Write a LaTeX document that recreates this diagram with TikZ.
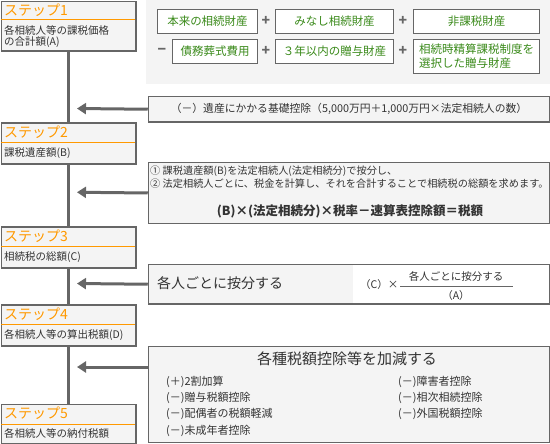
\documentclass[tikz,border=0pt]{standalone}
\usepackage{fontspec}
\setmainfont{Noto Sans CJK JP}
\usetikzlibrary{arrows.meta}
\definecolor{lineg}{HTML}{666666}
\definecolor{panel}{HTML}{F4F4F4}
\definecolor{orng}{HTML}{FF9900}
\definecolor{grn}{HTML}{3A8A1A}
\definecolor{txt}{HTML}{333333}
\newcommand{\fs}[1]{\fontsize{#1}{#1}\selectfont}
\tikzset{
  stepbox/.style={draw=lineg, line width=1.5pt, fill=panel, anchor=north west, minimum width=134.5pt, inner sep=0pt},
  steptitle/.style={anchor=west, text=orng, font=\fs{14}, inner sep=0pt},
  stepbody/.style={anchor=west, text=txt, font=\fs{10.5}, inner sep=0pt},
  oline/.style={draw=orng, line width=1pt},
  trunk/.style={draw=lineg, line width=3pt},
  arr/.style={draw=lineg, line width=3pt, -{Triangle[length=9pt,width=11pt]}},
  abox/.style={draw=lineg, line width=1.5pt, fill=panel, anchor=north west, inner sep=0pt},
  gbox/.style={draw=lineg, line width=1pt, fill=white, anchor=north west, inner sep=2pt, text=grn, font=\fs{11.5}},
  op/.style={text=lineg, font=\bfseries\fs{14}, inner sep=0pt},
  atext/.style={text=txt, inner sep=0pt},
}
\begin{document}
\begin{tikzpicture}[x=1pt,y=-1pt]
\useasboundingbox (0,0) rectangle (550,444);
% top panel
\fill[panel] (146,0) rectangle (550,84);
\node[gbox, minimum width=100pt, minimum height=24pt] (g1) at (157,9) {本来の相続財産};
\node[gbox, minimum width=118pt, minimum height=24pt] (g2) at (275,9) {みなし相続財産};
\node[gbox, minimum width=126pt, minimum height=24pt] (g3) at (413,9) {非課税財産};
\node[gbox, minimum width=85pt, minimum height=24pt] (g4) at (172,39) {債務葬式費用};
\node[gbox, minimum width=118pt, minimum height=24pt] (g5) at (275,39) {３年以内の贈与財産};
\node[gbox, minimum width=126pt, minimum height=34pt, align=left, font=\fontsize{11.5}{14}\selectfont] (g6) at (413,39) {相続時精算課税制度を\\選択した贈与財産};
\node[op] (p1) at (266,21) {+};
\node[op] (p2) at (403,21) {+};
\node[op] (m1) at (162,51) {−};
\node[op] (p3) at (266,51) {+};
\node[op] (p4) at (403,51) {+};

% step boxes
\node[stepbox, minimum height=49.5pt] (s1) at (0.75,0.75) {};
\node[steptitle] (t1) at (4,10) {ステップ1};
\draw[oline] (0.75,19.5) -- (135,19.5);
\node[stepbody] (d1a) at (4,30.5) {各相続人等の課税価格};
\node[stepbody] (d1b) at (4,42.5) {の合計額(A)};

\node[stepbox, minimum height=41pt] (s2) at (0.75,122.25) {};
\node[steptitle] (t2) at (4,132) {ステップ2};
\draw[oline] (0.75,142.5) -- (135,142.5);
\node[stepbody] (d2) at (4,153) {課税遺産額(B)};

\node[stepbox, minimum height=41pt] (s3) at (0.75,226.25) {};
\node[steptitle] (t3) at (4,236) {ステップ3};
\draw[oline] (0.75,246.5) -- (135,246.5);
\node[stepbody] (d3) at (4,257) {相続税の総額(C)};

\node[stepbox, minimum height=41pt] (s4) at (0.75,304.25) {};
\node[steptitle] (t4) at (4,314) {ステップ4};
\draw[oline] (0.75,324.5) -- (135,324.5);
\node[stepbody] (d4) at (4,335) {各相続人等の算出税額(D)};

\node[stepbox, minimum height=39pt] (s5) at (0.75,403.75) {};
\node[steptitle] (t5) at (4,413.5) {ステップ5};
\draw[oline] (0.75,424) -- (135,424);
\node[stepbody] (d5) at (4,433.5) {各相続人等の納付税額};

% trunk
\draw[trunk] (s1.south) -- (s2.north);
\draw[trunk] (s2.south) -- (s3.north);
\draw[trunk] (s3.south) -- (s4.north);
\draw[trunk] (s4.south) -- (s5.north);

% arrow box 1
\node[abox, minimum width=401pt, minimum height=25.5pt, font=\fs{10.8}, text=txt] (b1) at (147.75,95.75) {（－）遺産にかかる基礎控除（5,000万円＋1,000万円×法定相続人の数）};
\coordinate (a1) at (77,108.5);
\draw[arr] (b1.west) -- (a1);

% arrow box 2
\node[abox, minimum width=401pt, minimum height=61pt] (b2) at (147.75,161.75) {};
\node[atext, anchor=west, font=\fs{10.2}] (l1) at (150,171.5) {① 課税遺産額(B)を法定相続人(法定相続分)で按分し、};
\node[atext, anchor=west, font=\fs{10.2}] (l2) at (150,183.5) {② 法定相続人ごとに、税金を計算し、それを合計することで相続税の総額を求めます。};
\node[atext, font=\bfseries\fs{12.5}] (f2) at (350,211) {(B)×(法定相続分)×税率－速算表控除額＝税額};
\coordinate (a2) at (77,192.25);
\draw[arr] (b2.west) -- (a2);

% arrow box 3
\node[abox, fill=white, minimum width=401pt, minimum height=39.5pt] (b3) at (147.75,263.75) {};
\fill[panel] (148.5,264.5) rectangle (353,302.5);
\node[atext, anchor=west, font=\fs{14}] (h3) at (157,283.5) {各人ごとに按分する};
\node[atext, anchor=west, font=\fs{10.5}] (c3) at (360,284.5) {（C）×};
\draw[lineg, line width=0.8pt] (400,286) -- (513,286);
\node[atext, font=\fs{10.5}] (n3) at (456,276) {各人ごとに按分する};
\node[atext, font=\fs{10.5}] (e3) at (456,296) {（A）};
\coordinate (a3) at (77,283.5);
\draw[arr] (b3.west) -- (a3);

% arrow box 4
\node[abox, minimum width=401pt, minimum height=96pt] (b4) at (147.75,345.75) {};
\node[atext, font=\fs{15}] (h4) at (347,359) {各種税額控除等を加減する};
\node[atext, anchor=west, font=\fs{11}] (i1) at (166,381.5) {(＋)2割加算};
\node[atext, anchor=west, font=\fs{11}] (i2) at (166,397.5) {(－)贈与税額控除};
\node[atext, anchor=west, font=\fs{11}] (i3) at (166,414) {(－)配偶者の税額軽減};
\node[atext, anchor=west, font=\fs{11}] (i4) at (166,430.5) {(－)未成年者控除};
\node[atext, anchor=west, font=\fs{11}] (j1) at (398,381.5) {(－)障害者控除};
\node[atext, anchor=west, font=\fs{11}] (j2) at (398,397.5) {(－)相次相続控除};
\node[atext, anchor=west, font=\fs{11}] (j3) at (398,414) {(－)外国税額控除};
\coordinate (a4) at (77,367);
\draw[arr] (b4.west |- a4) -- (a4);
\end{tikzpicture}
\end{document}
